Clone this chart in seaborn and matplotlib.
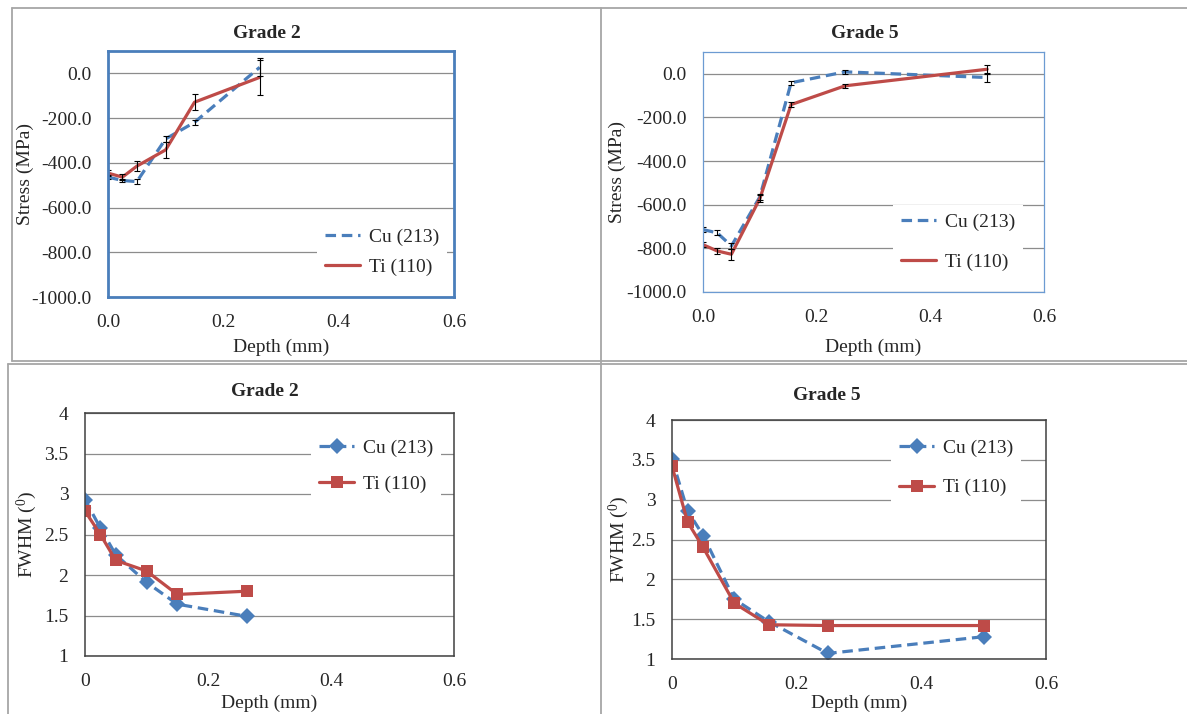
import matplotlib
matplotlib.use("Agg")
import matplotlib.pyplot as plt
from matplotlib.lines import Line2D
import pandas as pd
import seaborn as sns

# ---- data ----
series_names = ["Cu (213)", "Ti (110)"]

g2_depth = [0.0, 0.025, 0.05, 0.1, 0.15, 0.263]
g2_stress_cu = [-464, -479, -484, -293, -219, 27]
g2_stress_ti = [-446, -464, -415, -342, -129, -18]
g2_err_cu = [10, 8, 10, 15, 12, 40]
g2_err_ti = [15, 12, 22, 37, 35, 77]

g5_depth = [0.0, 0.025, 0.05, 0.1, 0.155, 0.25, 0.5]
g5_stress_cu = [-714, -729, -789, -564, -41, 9, -17]
g5_stress_ti = [-783, -812, -827, -572, -141, -55, 21]
g5_err_cu = [12, 12, 15, 15, 10, 10, 20]
g5_err_ti = [10, 12, 25, 15, 10, 10, 20]

g2_fwhm_cu = [2.93, 2.58, 2.25, 1.91, 1.64, 1.49]
g2_fwhm_ti = [2.79, 2.50, 2.18, 2.05, 1.76, 1.80]

g5_fwhm_cu = [3.51, 2.86, 2.55, 1.75, 1.47, 1.07, 1.28]
g5_fwhm_ti = [3.42, 2.72, 2.40, 1.70, 1.43, 1.42, 1.42]

stress_ticks = [-1000, -800, -600, -400, -200, 0]
fwhm_ticks = [1, 1.5, 2, 2.5, 3, 3.5, 4]
depth_ticks = [0.0, 0.2, 0.4, 0.6]

BLUE = "#4A7EBB"
RED = "#BE4B48"
W, H = 1187, 714

sns.set_style("white")
plt.rcParams["font.family"] = ["Liberation Serif", "DejaVu Serif"]
plt.rcParams["mathtext.fontset"] = "custom"
plt.rcParams["mathtext.rm"] = "Liberation Serif"
FS = 14


def long_frame(depth, cu, ti, col):
    df = pd.DataFrame({"depth": depth * 2,
                       col: list(cu) + list(ti),
                       "series": [series_names[0]] * len(depth) + [series_names[1]] * len(depth)})
    return df


def add_axes(fig, x0, y0, x1, y1):
    return fig.add_axes([x0 / W, 1 - y1 / H, (x1 - x0) / W, (y1 - y0) / H])


def px(x, y):
    return (x / W, 1 - y / H)


def style_axes(ax, ticks, ylim, fmt, spine_color, spine_lw, xfmt):
    ax.set_xlim(0, 0.6)
    ax.set_ylim(*ylim)
    ax.set_yticks(ticks)
    ax.set_yticklabels([fmt.format(t) for t in ticks], fontsize=FS)
    ax.set_xticks(depth_ticks)
    ax.set_xticklabels([xfmt(t) for t in depth_ticks], fontsize=FS)
    ax.tick_params(axis="y", length=0, pad=12)
    ax.tick_params(axis="x", direction="in", length=4, width=0.8, color="#808080", pad=12)
    ax.grid(axis="y", color="#8c8c8c", linewidth=0.9)
    ax.set_axisbelow(True)
    for s in ax.spines.values():
        s.set_visible(True)
        s.set_color(spine_color)
        s.set_linewidth(spine_lw)


def place_labels(ax, ylabel, xlabel_y, ylabel_x, fig):
    bb = ax.get_position()
    ax.set_xlabel("Depth (mm)", fontsize=FS)
    ax.set_ylabel(ylabel, fontsize=FS)
    # convert pixel offsets into axes fractions
    ax.xaxis.set_label_coords(0.5, ((1 - xlabel_y / H) - bb.y0) / bb.height)
    ax.xaxis.label.set_va("center")
    ax.yaxis.set_label_coords(((ylabel_x / W) - bb.x0) / bb.width, 0.5)
    ax.yaxis.label.set_va("center")


def legend(ax, cx, cy, spacing):
    leg = ax.legend(loc="center", bbox_to_anchor=px(cx, cy), bbox_transform=ax.figure.transFigure,
                    fontsize=FS, frameon=True, fancybox=False, framealpha=1,
                    handlelength=1.8, handletextpad=0.45, labelspacing=spacing, borderpad=0.4)
    leg.get_frame().set_edgecolor("none")
    leg.get_frame().set_facecolor("white")


fig = plt.figure(figsize=(W / 100, H / 100), dpi=100)

palette = {series_names[0]: BLUE, series_names[1]: RED}
dashes = {series_names[0]: (3.3, 1.8), series_names[1]: ""}
markers = {series_names[0]: "D", series_names[1]: "s"}

# ---- Grade 2 stress ----
ax1 = add_axes(fig, 108, 51, 454, 297)
df = long_frame(g2_depth, g2_stress_cu, g2_stress_ti, "stress")
sns.lineplot(data=df, x="depth", y="stress", hue="series", style="series",
             palette=palette, dashes=dashes, linewidth=2.3, ax=ax1)
ax1.errorbar(g2_depth, g2_stress_cu, yerr=g2_err_cu, fmt="none", ecolor="black",
             elinewidth=0.8, capsize=2.5, capthick=0.8)
ax1.errorbar(g2_depth, g2_stress_ti, yerr=g2_err_ti, fmt="none", ecolor="black",
             elinewidth=0.8, capsize=2.5, capthick=0.8)
style_axes(ax1, stress_ticks, (-1000, 100), "{:.1f}", BLUE, 2.0, lambda t: f"{t:.1f}")
place_labels(ax1, "Stress (MPa)", 347, 25, fig)
legend(ax1, 382, 252, 0.6)
fig.text(*px(267, 33), "Grade 2", ha="center", va="center", fontsize=FS, fontweight="bold")

# ---- Grade 5 stress ----
ax2 = add_axes(fig, 703, 52, 1044, 292)
df = long_frame(g5_depth, g5_stress_cu, g5_stress_ti, "stress")
sns.lineplot(data=df, x="depth", y="stress", hue="series", style="series",
             palette=palette, dashes=dashes, linewidth=2.3, ax=ax2)
ax2.errorbar(g5_depth, g5_stress_cu, yerr=g5_err_cu, fmt="none", ecolor="black",
             elinewidth=0.8, capsize=2.5, capthick=0.8)
ax2.errorbar(g5_depth, g5_stress_ti, yerr=g5_err_ti, fmt="none", ecolor="black",
             elinewidth=0.8, capsize=2.5, capthick=0.8)
style_axes(ax2, stress_ticks, (-1000, 100), "{:.1f}", "#6C9BD2", 0.9, lambda t: f"{t:.1f}")
place_labels(ax2, "Stress (MPa)", 347, 617, fig)
legend(ax2, 958, 242, 1.15)
fig.text(*px(865, 33), "Grade 5", ha="center", va="center", fontsize=FS, fontweight="bold")

# ---- Grade 2 FWHM ----
ax3 = add_axes(fig, 85, 413, 454, 656)
df = long_frame(g2_depth, g2_fwhm_cu, g2_fwhm_ti, "fwhm")
sns.lineplot(data=df, x="depth", y="fwhm", hue="series", style="series",
             palette=palette, dashes=dashes, markers=markers, markersize=8,
             markeredgewidth=0, linewidth=2.3, ax=ax3)
style_axes(ax3, fwhm_ticks, (1, 4), "{:g}", "#404040", 1.1, lambda t: f"{t:g}")
ax3.tick_params(axis="x", length=0)
place_labels(ax3, r"FWHM ($\mathregular{^0}$)", 703, 27, fig)
legend(ax3, 376, 466, 0.95)
fig.text(*px(265, 391), "Grade 2", ha="center", va="center", fontsize=FS, fontweight="bold")

# ---- Grade 5 FWHM ----
ax4 = add_axes(fig, 672, 420, 1046, 659)
df = long_frame(g5_depth, g5_fwhm_cu, g5_fwhm_ti, "fwhm")
sns.lineplot(data=df, x="depth", y="fwhm", hue="series", style="series",
             palette=palette, dashes=dashes, markers=markers, markersize=8,
             markeredgewidth=0, linewidth=2.3, ax=ax4)
style_axes(ax4, fwhm_ticks, (1, 4), "{:g}", "#404040", 1.1, lambda t: f"{t:g}")
ax4.tick_params(axis="x", length=0)
place_labels(ax4, r"FWHM ($\mathregular{^0}$)", 703, 619, fig)
legend(ax4, 956, 468, 1.1)
fig.text(*px(827, 395), "Grade 5", ha="center", va="center", fontsize=FS, fontweight="bold")

# ---- table cell borders around the four charts ----
border = dict(color="#a6a6a6", linewidth=1.3, transform=fig.transFigure)
for (xa, ya), (xb, yb) in [((12, 8), (1187, 8)), ((12, 8), (12, 361)),
                           ((601, 8), (601, 714)), ((12, 361), (1187, 361)),
                           ((8, 364), (1187, 364)), ((8, 364), (8, 714))]:
    (fx0, fy0), (fx1, fy1) = px(xa, ya), px(xb, yb)
    fig.add_artist(Line2D([fx0, fx1], [fy0, fy1], **border))

fig.savefig("out.png", dpi=100)
